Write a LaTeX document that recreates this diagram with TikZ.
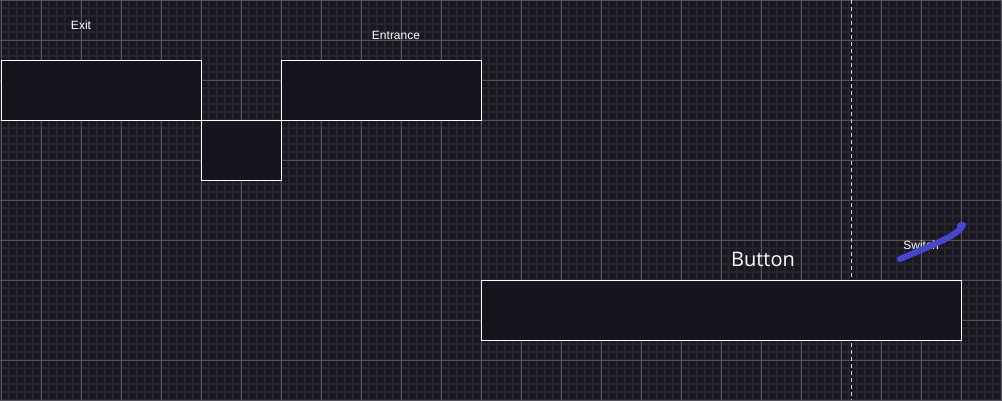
\documentclass[tikz,border=0pt]{standalone}
\usepackage{fontspec}
\setmainfont{Liberation Sans}
\newfontfamily\btnfont{Open Sans}
\definecolor{bg}{HTML}{1A1720}
\definecolor{boxfill}{HTML}{18141D}
\definecolor{gridmajor}{HTML}{55525D}
\definecolor{gridminor}{HTML}{27242E}
\definecolor{penblue}{HTML}{4646D2}
\tikzset{
  room/.style={draw=white, fill=boxfill, line width=1pt},
  lbl/.style={text=white, font=\fontsize{12}{12}\selectfont, inner sep=0pt},
  biglbl/.style={text=white, font=\btnfont\fontsize{20}{20}\selectfont, inner sep=0pt},
}
\begin{document}
\begin{tikzpicture}[x=1pt,y=-1pt]
\useasboundingbox (0,0) rectangle (1002,400);
\fill[bg] (0,0) rectangle (1002,400);
% minor grid
\foreach \i in {1,9,...,1001} \draw[gridminor, line width=1.5pt] (\i,0) -- (\i,400);
\foreach \j in {0,8,...,400} \draw[gridminor, line width=1.5pt] (0,\j) -- (1002,\j);
% major grid
\foreach \i in {1,41,...,1001} \draw[gridmajor, line width=0.8pt] (\i,0) -- (\i,400);
\foreach \j in {0,40,...,400} \draw[gridmajor, line width=0.8pt] (0,\j) -- (1002,\j);
% dashed line
\coordinate (dtop) at (851,0);
\coordinate (dbot) at (851,400);
\draw[white!85!black, line width=0.8pt, dash pattern=on 4pt off 3pt] (dtop) -- (dbot);
% rooms
\draw[room] (1,60) rectangle (201,120);
\draw[room] (201,120) rectangle (281,180);
\draw[room] (281,60) rectangle (481,120);
\draw[room] (481,280) rectangle (961,340);
% labels
\node[lbl] (exit) at (81,25) {Exit};
\node[lbl] (entrance) at (396,35) {Entrance};
\node[biglbl] (button) at (763,259) {Button};
\node[lbl] (switch) at (921,245) {Switch};
% blue stroke
\coordinate (s1) at (900,259);
\coordinate (s2) at (963,225);
\draw[penblue, line width=6pt, line cap=round] (s1) .. controls (930,246) and (958,236) .. (s2);
\fill[penblue] (961,226) circle (4pt);
\end{tikzpicture}
\end{document}
